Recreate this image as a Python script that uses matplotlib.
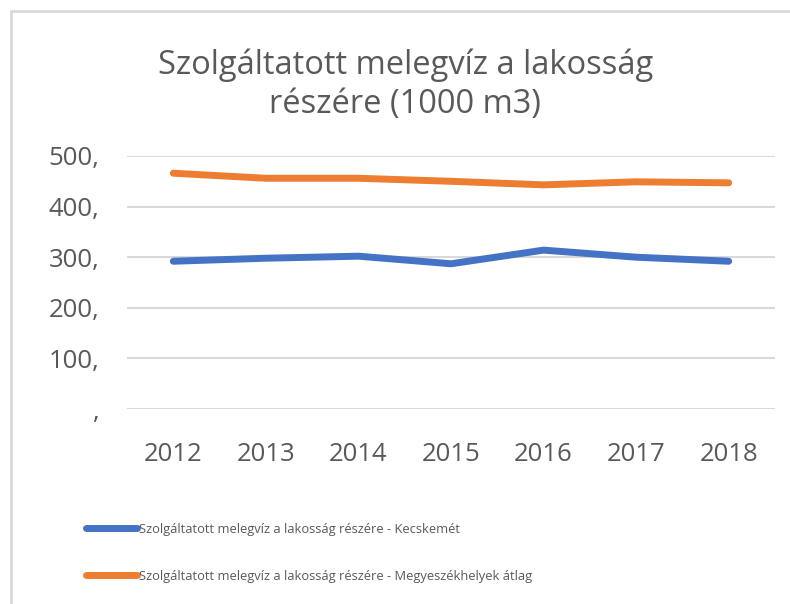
import matplotlib.pyplot as plt
from matplotlib.patches import Rectangle
from matplotlib.ticker import FuncFormatter

years = ["2012", "2013", "2014", "2015", "2016", "2017", "2018"]
kecskemet = [292, 298, 302, 287, 314, 300, 292]
megyeszekhelyek = [466, 456, 456, 450, 443, 449, 447]
labels = [
    "Szolgáltatott melegvíz a lakosság részére - Kecskemét",
    "Szolgáltatott melegvíz a lakosság részére - Megyeszékhelyek átlag",
]

grey = "#595959"
plt.rcParams["font.family"] = ["Open Sans", "DejaVu Sans"]

fig = plt.figure(figsize=(7.9, 6.04), dpi=100)
fig.patches.append(Rectangle((11 / 790, -0.1), 1.2, 1.1 - 11 / 604,
                             transform=fig.transFigure, fill=False,
                             edgecolor="#d9d9d9", lw=2))

ax = fig.add_axes([127 / 790, 1 - 409 / 604, 648 / 790, 253 / 604])
x = range(len(years))
l1, = ax.plot(x, kecskemet, color="#4472c4", lw=5, solid_capstyle="round")
l2, = ax.plot(x, megyeszekhelyek, color="#ed7d31", lw=5, solid_capstyle="round")

ax.set_xlim(-0.5, len(years) - 0.5)
ax.set_ylim(0, 500)
ax.set_yticks(range(0, 501, 100))
ax.yaxis.set_major_formatter(FuncFormatter(lambda v, p: f"{int(v)}," if v else ","))
ax.set_xticks(list(x))
ax.set_xticklabels(years)
ax.grid(axis="y", color="#d9d9d9", lw=1.5)
ax.set_axisbelow(True)
for s in ax.spines.values():
    s.set_visible(False)
ax.tick_params(length=0, labelsize=18.5, colors=grey)
ax.tick_params(axis="y", pad=20)
ax.tick_params(axis="x", pad=24)

fig.text(0.513, 1 - 85 / 604, "Szolgáltatott melegvíz a lakosság\nrészére (1000 m3)",
         ha="center", va="center", fontsize=23.5, color=grey, linespacing=1.25)

fig.legend([l1, l2], labels, loc="upper left", bbox_to_anchor=(74 / 790, 1 - 511 / 604),
           frameon=False, fontsize=9.3, labelcolor=grey, handlelength=4.0,
           handletextpad=0.15, labelspacing=2.65)

fig.savefig("out.png", dpi=100)
